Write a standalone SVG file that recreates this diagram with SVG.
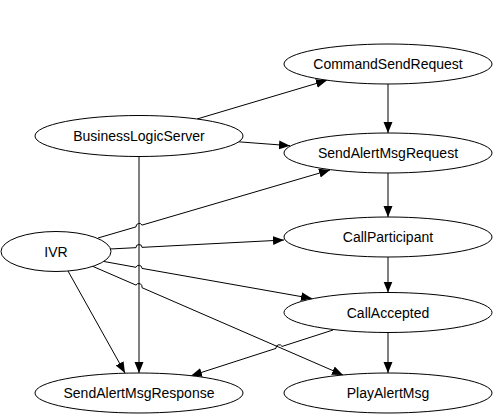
<svg xmlns="http://www.w3.org/2000/svg" width="493" height="416" viewBox="0 0 493 416">
<style>
.n ellipse{fill:#fff;stroke:#000;stroke-width:1}
.n text{font-family:"Liberation Sans",Arial,sans-serif;font-size:14px;fill:#000;text-anchor:middle}
.e path{fill:none;stroke:#000;stroke-width:1;marker-end:url(#ah)}
</style>
<defs>
<marker id="ah" markerUnits="userSpaceOnUse" markerWidth="12" markerHeight="10" refX="11" refY="4.5" orient="auto">
<path d="M0,0 L11,4.5 L0,9 z" fill="#000"/>
</marker>
</defs>
<rect width="493" height="416" fill="#fff"/>
<g id="edges" class="e">
<path d="M197,119 L327,80.3"/>
<path d="M237,141.7 L290,145.7"/>
<path d="M388,84 L388,133"/>
<path d="M388,173 L388,217"/>
<path d="M388,257 L388,292.5"/>
<path d="M388,332.5 L388,373"/>
<path d="M139,156 L139,373"/>
<path d="M333,330 L282,346.45 A3.2,3.2 0 0 0 276,348.38 L191,375.8"/>
<path d="M98,238 L136,226.9 A3.2,3.2 0 0 1 142,225.1 L330,170"/>
<path d="M110,249 L136,247.66 A3,3 0 0 1 142,247.35 L284,240"/>
<path d="M104,261.5 L136,267.3 A3.1,3.1 0 0 1 142,268.4 L312,298.5"/>
<path d="M92,266 L136,285.1 A3.3,3.3 0 0 1 142,287.7 L343,375"/>
<path d="M68,271 L125,373"/>
</g>
<g id="CommandSendRequest" class="n"><ellipse cx="388" cy="64" rx="104" ry="20"/><text x="388" y="69">CommandSendRequest</text></g>
<g id="BusinessLogicServer" class="n"><ellipse cx="139" cy="136" rx="104" ry="20.5"/><text x="139" y="141">BusinessLogicServer</text></g>
<g id="SendAlertMsgRequest" class="n"><ellipse cx="388" cy="153" rx="104" ry="20"/><text x="388" y="158">SendAlertMsgRequest</text></g>
<g id="IVR" class="n"><ellipse cx="56" cy="251.5" rx="55" ry="20"/><text x="56" y="256.5">IVR</text></g>
<g id="CallParticipant" class="n"><ellipse cx="388" cy="237" rx="104" ry="20"/><text x="388" y="242">CallParticipant</text></g>
<g id="CallAccepted" class="n"><ellipse cx="388" cy="312.5" rx="104" ry="20"/><text x="388" y="317.5">CallAccepted</text></g>
<g id="SendAlertMsgResponse" class="n"><ellipse cx="139" cy="393" rx="104" ry="20"/><text x="139" y="398">SendAlertMsgResponse</text></g>
<g id="PlayAlertMsg" class="n"><ellipse cx="388" cy="393" rx="104" ry="20"/><text x="388" y="398">PlayAlertMsg</text></g>
</svg>
